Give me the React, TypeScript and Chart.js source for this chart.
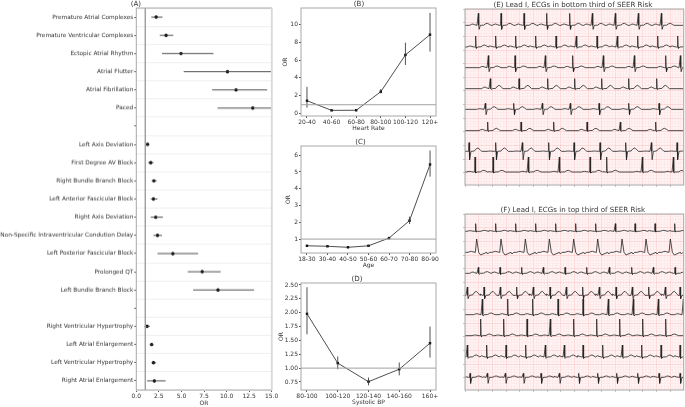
import { useEffect, useRef } from "react"
import { Chart, registerables } from "chart.js"

Chart.register(...registerables)
Chart.defaults.font.family = "'DejaVu Sans', sans-serif"
Chart.defaults.color = "#333333"

// panel A: odds ratios by ECG finding
const findings = [
  "Premature Atrial Complexes",
  "Premature Ventricular Complexes",
  "Ectopic Atrial Rhythm",
  "Atrial Flutter",
  "Atrial Fibrillation",
  "Paced",
  "",
  "Left Axis Deviation",
  "First Degree AV Block",
  "Right Bundle Branch Block",
  "Left Anterior Fascicular Block",
  "Right Axis Deviation",
  "Non-Specific Intraventricular Condution Delay",
  "Left Posterior Fascicular Block",
  "Prolonged QT",
  "Left Bundle Branch Block",
  "",
  "Right Ventricular Hypertrophy",
  "Left Atrial Enlargement",
  "Left Ventricular Hypertrophy",
  "Right Atrial Enlargement",
]
const findingOr = [2.2, 3.3, 4.95, 10.1, 11.05, 12.9, null, 1.25, 1.6, 1.95, 1.9, 2.15, 2.35, 4.05, 7.3, 9.05, null, 1.2, 1.7, 1.9, 2.0]
const findingLo = [1.66, 2.6, 2.85, 5.25, 8.4, 9.0, null, 1.05, 1.33, 1.7, 1.6, 1.6, 1.9, 2.35, 5.7, 6.3, null, 0.9, 1.48, 1.7, 1.2]
const findingHi = [2.9, 4.1, 8.55, 20, 14.5, 18, null, 1.45, 1.9, 2.25, 2.35, 2.95, 2.85, 6.85, 9.35, 13.05, null, 1.5, 1.9, 2.2, 3.25]

// panel B
const rateBins = ["20-40", "40-60", "60-80", "80-100", "100-120", "120+"]
const rateOr = [1.45, 0.37, 0.38, 2.46, 6.57, 8.84]
const rateLo = [0.67, 0.3, 0.3, 2.27, 5.45, 6.94]
const rateHi = [3.0, 0.45, 0.47, 2.76, 7.95, 11.27]
const rateTicks = [0, 2, 4, 6, 8, 10]

// panel C
const ageBins = ["18-30", "30-40", "40-50", "50-60", "60-70", "70-80", "80-90"]
const ageOr = [0.6, 0.57, 0.51, 0.6, 1.06, 2.1, 5.45]
const ageLo = [0.56, 0.53, 0.48, 0.56, 1.0, 1.9, 4.72]
const ageHi = [0.64, 0.61, 0.54, 0.64, 1.12, 2.34, 6.28]
const ageTicks = [1, 2, 3, 4, 5, 6]

// panel D
const bpBins = ["80-100", "100-120", "120-140", "140-160", "160+"]
const bpOr = [1.98, 1.09, 0.755, 0.98, 1.45]
const bpLo = [1.61, 0.98, 0.69, 0.87, 1.19]
const bpHi = [2.46, 1.21, 0.83, 1.1, 1.75]
const bpTicks = [0.75, 1, 1.25, 1.5, 1.75, 2, 2.25, 2.5]

// ECG strips, R peak positions and baselines in thirds of a pixel
const lowRiskBeats = [
  [55, 123, 192, 260, 329, 397, 466, 535, 604],
  [47, 107, 167, 227, 288, 349, 411, 472, 533, 593, 653],
  [85, 165, 256, 338, 430, 523, 617, 661],
  [91, 177, 263, 344, 425, 506, 590],
  [76, 161, 247, 331, 417, 506, 597],
  [83, 183, 281, 381, 481, 587],
  [27, 107, 187, 266, 342, 420, 497, 574, 651],
  [45, 99, 205, 298, 390, 440, 547, 640],
]
const lowRiskBase = [49, 114, 176, 239, 301, 365, 427, 489]
const lowRiskR = [36, 33, 36, 30, 18, 26, 26, 45]
const lowRiskS = [12, 4, 12, 2, 16, 2, 25, 3]
const lowRiskT = [6, 6, 5, 10, 8, 7, 10, 5]
const lowRiskP = [4, 3, 4, 5, 2, 4, 1, 2]
const lowRiskWide = [1, 1, 1, 1, 1, 1, 1, 1]

const highRiskBeats = [
  [47, 107, 167, 227, 287, 347, 407, 466, 525, 585, 644],
  [50, 123, 196, 268, 341, 413, 486, 558, 631],
  [55, 120, 185, 250, 315, 380, 448, 515, 580, 645],
  [22, 72, 121, 170, 220, 270, 319, 368, 418, 468, 517, 566, 616, 660],
  [67, 143, 218, 294, 369, 445, 520, 595, 670],
  [62, 131, 201, 271, 341, 410, 479, 548, 617],
  [22, 80, 138, 197, 256, 313, 369, 428, 487, 545, 603, 660],
  [30, 82, 136, 190, 243, 298, 356, 413, 470, 533, 597, 660],
]
const highRiskBase = [52, 115, 178, 244, 302, 365, 429, 490]
const highRiskR = [23, 40, 18, 25, 47, 50, 36, 12]
const highRiskS = [2, 8, 3, 10, 4, 3, 4, 18]
const highRiskT = [3, -10, 5, 12, 5, 5, 6, 4]
const highRiskP = [2, 3, 4, 8, 3, 2, 4, 3]
const highRiskWide = [1, 5, 1, 1, 1, 1, 1, 1]

// beat shape: offsets from the R peak, and which wave each point belongs to
const shapeX = [-26, -21, -16, -11, -4, -1.2, 0, 1.2, 2.4, 6, 16, 22, 27, 33, 38]
const shapeR = [0, 0, 0, 0, 0, 0, 1, 0, 0, 0, 0, 0, 0, 0, 0]
const shapeS = [0, 0, 0, 0, 0, 0, 0, 0, 1, 0, 0, 0, 0, 0, 0]
const shapeT = [0, 0, 0, 0, 0, 0, 0, 0, 0, 0, 0.1, 0.8, 1, 0.5, 0]
const shapeP = [0, 0.7, 1, 0.5, 0, 0, 0, 0, 0, 0, 0, 0, 0, 0, 0]

const ECG_LEFT = 15
const ECG_RIGHT = 671
const ECG_HEIGHT = 528
const ECG_BOX = 8.2

const framePlugin = {
  id: "frame",
  beforeDraw(chart: any, _args: any, opts: any) {
    if (!opts.fill) return
    const { left, top, width, height } = chart.chartArea
    chart.ctx.save()
    chart.ctx.fillStyle = opts.fill
    chart.ctx.fillRect(left, top, width, height)
    chart.ctx.restore()
  },
  afterDraw(chart: any, _args: any, opts: any) {
    const { left, top, right, bottom } = chart.chartArea
    const ctx = chart.ctx
    ctx.save()
    ctx.strokeStyle = opts.color || "#a8a8a8"
    ctx.lineWidth = 1
    ctx.strokeRect(left, top, right - left, bottom - top)
    if (opts.rightColor) {
      ctx.strokeStyle = opts.rightColor
      ctx.lineWidth = 1.6
      ctx.beginPath()
      ctx.moveTo(right, top)
      ctx.lineTo(right, bottom)
      ctx.stroke()
    }
    ctx.restore()
  },
}

function fixedY(width: number) {
  return (scale: any) => {
    scale.width = width
    scale.paddingTop = 0
    scale.paddingBottom = 0
  }
}

function fixedX(height: number) {
  return (scale: any) => {
    scale.height = height
    scale.paddingLeft = 0
    scale.paddingRight = 0
  }
}

function setTicks(values: number[]) {
  return (scale: any) => {
    scale.ticks = values.map((value) => ({ value }))
  }
}

function titleOptions(text: string) {
  return {
    display: true,
    text,
    color: "#333333",
    padding: 0,
    font: { size: 7.1, weight: "normal" as const, lineHeight: "8px" },
  }
}

function axisTitle(text: string) {
  return { display: true, text, color: "#333333", padding: 0, font: { size: 6, lineHeight: "7px" } }
}

function errorPoints(lo: (number | null)[], hi: (number | null)[], place: (v: number | null, i: number) => any) {
  const points: any[] = []
  lo.forEach((low, i) => {
    if (low === null) return
    points.push(place(low, i), place(hi[i], i), { x: null, y: null })
  })
  return points
}

function forestConfig() {
  const rows = findings.map((_, i) => i)
  const half = [...rows.map((i) => i - 0.5), 20.5]
  const allTicks = [...half, ...rows].sort((a, b) => a - b)
  return {
    type: "line",
    plugins: [framePlugin],
    data: {
      datasets: [
        {
          data: [{ x: 1, y: -0.5 }, { x: 1, y: 20.5 }],
          borderColor: "#a0a0a0",
          borderWidth: 1,
          pointRadius: 0,
        },
        {
          data: errorPoints(findingLo, findingHi, (v, i) => ({ x: v, y: i })),
          borderColor: "#3d3d3d",
          borderWidth: 0.9,
          pointRadius: 0,
          spanGaps: false,
        },
        {
          data: findingOr.map((v, i) => ({ x: v, y: v === null ? null : i })),
          showLine: false,
          pointRadius: 1.7,
          pointBackgroundColor: "#000000",
          pointBorderWidth: 0,
        },
      ],
    },
    options: {
      animation: false,
      responsive: false,
      layout: { padding: { right: 13.3 } },
      plugins: {
        legend: { display: false },
        tooltip: { enabled: false },
        title: titleOptions("(A)"),
        frame: { rightColor: "#d9d9d9" },
      },
      scales: {
        x: {
          type: "linear",
          min: 0,
          max: 15,
          afterFit: fixedX(17),
          grid: { drawOnChartArea: false, tickLength: 2, tickColor: "#555555" },
          border: { display: false },
          ticks: { stepSize: 2.5, padding: 1, maxRotation: 0, font: { size: 6 }, callback: (v: number) => v.toFixed(1) },
          title: axisTitle("OR"),
        },
        y: {
          type: "linear",
          reverse: true,
          min: -0.5,
          max: 20.5,
          afterFit: fixedY(136.3),
          afterBuildTicks: setTicks(allTicks),
          grid: {
            tickLength: 2,
            color: (c: any) => (Number.isInteger(c.tick.value) ? "transparent" : "#efefef"),
            tickColor: (c: any) => (Number.isInteger(c.tick.value) ? "#555555" : "transparent"),
          },
          border: { display: false },
          ticks: {
            autoSkip: false,
            padding: 1,
            font: { size: 5.8 },
            callback: (v: number) => (Number.isInteger(v) ? findings[v] : ""),
          },
        },
      },
    },
  }
}

function trendConfig(p: {
  title: string
  xTitle: string
  bins: string[]
  or: number[]
  lo: number[]
  hi: number[]
  yTicks: number[]
  yMin: number
  yMax: number
  edge: number
  axisWidth: number
  digits: number
}) {
  const last = p.bins.length - 1
  return {
    type: "line",
    plugins: [framePlugin],
    data: {
      datasets: [
        {
          data: [{ x: -p.edge, y: 1 }, { x: last + p.edge, y: 1 }],
          borderColor: "#a0a0a0",
          borderWidth: 1,
          pointRadius: 0,
        },
        {
          data: errorPoints(p.lo, p.hi, (v, i) => ({ x: i, y: v })),
          borderColor: "#3d3d3d",
          borderWidth: 0.9,
          pointRadius: 0,
          spanGaps: false,
        },
        {
          data: p.or.map((v, i) => ({ x: i, y: v })),
          borderColor: "#3a3a3a",
          borderWidth: 0.9,
          pointStyle: "rect",
          pointRadius: 1.7,
          pointBackgroundColor: "#000000",
          pointBorderWidth: 0,
        },
      ],
    },
    options: {
      animation: false,
      responsive: false,
      layout: { padding: { right: 10 } },
      plugins: {
        legend: { display: false },
        tooltip: { enabled: false },
        title: titleOptions(p.title),
        frame: {},
      },
      scales: {
        x: {
          type: "linear",
          min: -p.edge,
          max: last + p.edge,
          afterFit: fixedX(16),
          afterBuildTicks: setTicks(p.bins.map((_, i) => i)),
          grid: { drawOnChartArea: false, tickLength: 2, tickColor: "#555555" },
          border: { display: false },
          ticks: { autoSkip: false, padding: 1, maxRotation: 0, font: { size: 6 }, callback: (v: number) => p.bins[v] },
          title: axisTitle(p.xTitle),
        },
        y: {
          type: "linear",
          min: p.yMin,
          max: p.yMax,
          afterFit: fixedY(p.axisWidth),
          afterBuildTicks: setTicks(p.yTicks),
          grid: { drawOnChartArea: false, tickLength: 2, tickColor: "#555555" },
          border: { display: false },
          ticks: { autoSkip: false, padding: 1, font: { size: 6 }, callback: (v: number) => v.toFixed(p.digits) },
          title: axisTitle("OR"),
        },
      },
    },
  }
}

// lay one beat shape down at each R peak of a row
function stripTrace(beats: number[], base: number, r: number, s: number, t: number, p: number, wide: number) {
  const points: { x: number; y: number }[] = [{ x: ECG_LEFT, y: base }]
  beats.forEach((peak) => {
    shapeX.forEach((dx, i) => {
      const x = peak + dx * (i > 4 && i < 10 ? wide : 1)
      if (x <= points[points.length - 1].x || x > ECG_RIGHT) return
      points.push({ x, y: base - shapeR[i] * r + shapeS[i] * s - shapeT[i] * t - shapeP[i] * p })
    })
  })
  points.push({ x: ECG_RIGHT, y: base })
  return points
}

function ecgConfig(p: {
  title: string
  beats: number[][]
  base: number[]
  r: number[]
  s: number[]
  t: number[]
  pw: number[]
  wide: number[]
}) {
  const xGrid: number[] = []
  for (let v = ECG_LEFT; v <= ECG_RIGHT; v += ECG_BOX) xGrid.push(v)
  const yGrid: number[] = []
  for (let v = 0; v <= ECG_HEIGHT; v += ECG_BOX) yGrid.push(v)
  const majorAt = (value: number, start: number) => Math.round((value - start) / ECG_BOX) % 5 === 0
  return {
    type: "line",
    plugins: [framePlugin],
    data: {
      datasets: p.beats.map((beats, i) => ({
        data: stripTrace(beats, p.base[i], p.r[i], p.s[i], p.t[i], p.pw[i], p.wide[i]),
        borderColor: "#222222",
        borderWidth: 0.8,
        borderJoinStyle: "round",
        pointRadius: 0,
      })),
    },
    options: {
      animation: false,
      responsive: false,
      layout: { padding: { right: 1.3 } },
      plugins: {
        legend: { display: false },
        tooltip: { enabled: false },
        title: titleOptions(p.title),
        frame: { fill: "#fff3f3" },
      },
      scales: {
        x: {
          type: "linear",
          min: ECG_LEFT,
          max: ECG_RIGHT,
          afterFit: fixedX(3),
          afterBuildTicks: setTicks(xGrid),
          grid: {
            tickLength: 2,
            lineWidth: 0.5,
            color: (c: any) => (majorAt(c.tick.value, ECG_LEFT) ? "#fac0c0" : "#fde4e4"),
            tickColor: (c: any) => (majorAt(c.tick.value, ECG_LEFT) ? "#8a8a8a" : "transparent"),
          },
          border: { display: false },
          ticks: { display: false },
        },
        y: {
          type: "linear",
          reverse: true,
          min: 0,
          max: ECG_HEIGHT,
          afterFit: fixedY(3),
          afterBuildTicks: setTicks(yGrid),
          grid: {
            tickLength: 2,
            lineWidth: 0.5,
            color: (c: any) => (majorAt(c.tick.value, 0) ? "#fac0c0" : "#fde4e4"),
            tickColor: (c: any) => (majorAt(c.tick.value, 0) ? "#8a8a8a" : "transparent"),
          },
          border: { display: false },
          ticks: { display: false },
        },
      },
    },
  }
}

function Panel({ box, config }: { box: number[]; config: () => any }) {
  const canvasRef = useRef<HTMLCanvasElement | null>(null)

  useEffect(() => {
    if (!canvasRef.current) return
    const chart = new Chart(canvasRef.current, config())
    return () => chart.destroy()
  }, [config])

  const [left, top, width, height] = box
  return <canvas ref={canvasRef} width={width} height={height} style={{ position: "absolute", left, top, width, height }} />
}

const forest = () => forestConfig()
const rateChart = () =>
  trendConfig({
    title: "(B)", xTitle: "Heart Rate", bins: rateBins, or: rateOr, lo: rateLo, hi: rateHi,
    yTicks: rateTicks, yMin: -0.26, yMax: 11.82, edge: 0.243, axisWidth: 19, digits: 0,
  })
const ageChart = () =>
  trendConfig({
    title: "(C)", xTitle: "Age", bins: ageBins, or: ageOr, lo: ageLo, hi: ageHi,
    yTicks: ageTicks, yMin: 0.17, yMax: 6.55, edge: 0.29, axisWidth: 16, digits: 0,
  })
const bpChart = () =>
  trendConfig({
    title: "(D)", xTitle: "Systolic BP", bins: bpBins, or: bpOr, lo: bpLo, hi: bpHi,
    yTicks: bpTicks, yMin: 0.605, yMax: 2.536, edge: 0.195, axisWidth: 23, digits: 2,
  })
const lowRiskChart = () =>
  ecgConfig({
    title: "(E) Lead I, ECGs in bottom third of SEER Risk",
    beats: lowRiskBeats, base: lowRiskBase, r: lowRiskR, s: lowRiskS, t: lowRiskT, pw: lowRiskP, wide: lowRiskWide,
  })
const highRiskChart = () =>
  ecgConfig({
    title: "(F) Lead I, ECGs in top third of SEER Risk",
    beats: highRiskBeats, base: highRiskBase, r: highRiskR, s: highRiskS, t: highRiskT, pw: highRiskP, wide: highRiskWide,
  })

export default function App() {
  return (
    <div style={{ position: "absolute", left: 0, top: 0, width: 685, height: 407, background: "#ffffff", overflow: "hidden" }}>
      <Panel box={[0, 0.3, 285, 406.7]} config={forest} />
      <Panel box={[282, 0, 164.3, 132]} config={rateChart} />
      <Panel box={[285, 137.7, 161.3, 131.6]} config={ageChart} />
      <Panel box={[278, 275.3, 168.3, 131]} config={bpChart} />
      <Panel box={[462, 0.7, 223, 187]} config={lowRiskChart} />
      <Panel box={[462, 206.3, 223, 187]} config={highRiskChart} />
    </div>
  )
}
